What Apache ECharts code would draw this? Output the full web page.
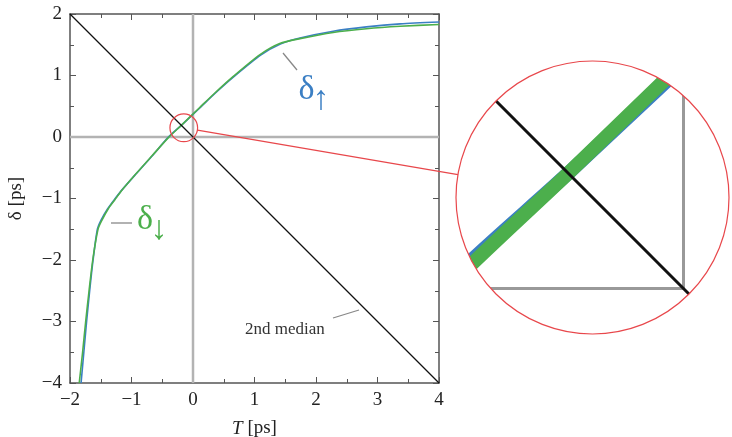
<!DOCTYPE html>
<html>
<head>
<meta charset="utf-8">
<script src="https://cdn.jsdelivr.net/npm/echarts@6/dist/echarts.min.js"></script>
<style>
  html, body { margin: 0; padding: 0; background: #fff; }
  #chart { width: 732px; height: 437px; }
</style>
</head>
<body>
<div id="chart"></div>
<script>
// axis ranges
var tRange = [-2, 4];
var dRange = [-4, 2];
var tickStep = 1;

// delta_down (green) and delta_up (blue)
var greenT = [-1.85, -1.795, -1.745, -1.69, -1.63, -1.545, -1.48, -1.38, -1.27, -1.16, -0.92, -0.67, -0.40, -0.19, 0.11, 0.36, 0.66, 1.09, 1.41, 1.74, 2.28, 2.82, 3.37, 4.0];
var greenD = [-4.0, -3.5, -3.0, -2.5, -2.0, -1.5, -1.35, -1.17, -1.02, -0.87, -0.59, -0.31, -0.01, 0.19, 0.48, 0.72, 0.99, 1.34, 1.52, 1.60, 1.70, 1.76, 1.80, 1.83];
var blueT = [-1.82, -1.775, -1.73, -1.68, -1.625, -1.555, -1.495, -1.39, -1.28, -1.165, -0.92, -0.665, -0.40, -0.19, 0.11, 0.365, 0.665, 1.10, 1.42, 1.74, 2.28, 2.82, 3.37, 4.0];
var blueD = [-4.0, -3.5, -3.0, -2.5, -2.0, -1.5, -1.35, -1.17, -1.02, -0.872, -0.593, -0.308, -0.002, 0.19, 0.472, 0.715, 0.98, 1.33, 1.51, 1.61, 1.72, 1.79, 1.84, 1.87];

// 2nd median
var medianT = [-2, 4];
var medianD = [2, -4];

// the zoomed-in spot
var zoomCenter = [-0.15, 0.15];
var zoomRadius = 0.225;

function pairs(xs, ys) {
  return xs.map(function (x, i) { return [x, ys[i]]; });
}
function fmt(v) {
  return v < 0 ? '\u2212' + (-v) : String(v);
}

var serif = 'Liberation Serif';
var green = '#4caf4c', blue = '#3b7fc4', red = '#e8474b', grey = '#b3b3b3', frame = '#555';

var chart = echarts.init(document.getElementById('chart'));

function mainAxis(pos, labels, name) {
  return {
    gridIndex: 0, type: 'value', position: pos,
    axisLine: { show: true, onZero: false, lineStyle: { color: frame, width: 1.5 } },
    axisTick: { show: true, inside: true, length: 6, lineStyle: { color: frame, width: 1 } },
    minorTick: { show: true, splitNumber: 2, length: 4, lineStyle: { color: frame, width: 1 } },
    axisLabel: { show: labels, fontFamily: serif, fontSize: 19, color: '#222', margin: 8, formatter: fmt },
    splitLine: { show: false },
    name: name || '', nameLocation: 'middle',
    nameTextStyle: { fontFamily: serif, fontSize: 19, color: '#222',
      rich: { i: { fontFamily: serif, fontSize: 19, fontStyle: 'italic', color: '#222' } } },
    interval: tickStep
  };
}

var xMain = mainAxis('bottom', true, '{i|T} [ps]');
xMain.min = tRange[0]; xMain.max = tRange[1]; xMain.nameGap = 36;
var xTop = mainAxis('top', false);
xTop.min = tRange[0]; xTop.max = tRange[1];
var yMain = mainAxis('left', true, '\u03b4 [ps]');
yMain.min = dRange[0]; yMain.max = dRange[1]; yMain.nameGap = 44; yMain.nameRotate = 90;
var yRight = mainAxis('right', false);
yRight.min = dRange[0]; yRight.max = dRange[1];

var xInset = { gridIndex: 1, type: 'value', show: false,
  min: zoomCenter[0] - zoomRadius, max: zoomCenter[0] + zoomRadius };
var yInset = { gridIndex: 1, type: 'value', show: false,
  min: zoomCenter[1] - zoomRadius, max: zoomCenter[1] + zoomRadius };

function line(data, color, width, xi, z, smooth) {
  return {
    type: 'line', data: data, xAxisIndex: xi, yAxisIndex: xi,
    symbol: 'none', silent: true, z: z, clip: true, smooth: smooth || false,
    lineStyle: { color: color, width: width }
  };
}

var series = [
  line([[0, dRange[0]], [0, dRange[1]]], grey, 2.5, 0, 2),
  line([[tRange[0], 0], [tRange[1], 0]], grey, 2.5, 0, 2),
  line(pairs(blueT, blueD), blue, 1.6, 0, 3, 0.25),
  line(pairs(greenT, greenD), green, 1.6, 0, 4, 0.25),
  line(pairs(medianT, medianD), '#111', 1.3, 0, 5),

  line([[0, 0], [0, dRange[1]]], '#999', 3, 2, 2),
  line([[tRange[0], 0], [0, 0]], '#999', 3, 2, 2),
  line(pairs(blueT, blueD), blue, 14, 2, 3, 0.25),
  line(pairs(greenT, greenD), green, 14, 2, 4, 0.25),
  line(pairs(medianT, medianD), '#111', 3, 2, 5)
];

chart.setOption({
  animation: false,
  backgroundColor: '#fff',
  grid: [
    { left: 70, top: 14, width: 369, height: 369, outerBoundsMode: 'none' },
    { left: 456, top: 61, width: 273, height: 273, outerBoundsMode: 'none' }
  ],
  xAxis: [xMain, xTop, xInset],
  yAxis: [yMain, yRight, yInset],
  series: series
});

// zoom circles, mask and annotations
var c0 = chart.convertToPixel({ gridIndex: 0 }, zoomCenter);
var r0 = chart.convertToPixel({ gridIndex: 0 }, [zoomCenter[0] + zoomRadius, zoomCenter[1]])[0] - c0[0];
var c1 = chart.convertToPixel({ gridIndex: 1 }, zoomCenter);
var r1 = chart.convertToPixel({ gridIndex: 1 }, [zoomCenter[0] + zoomRadius, zoomCenter[1]])[0] - c1[0];

var dx = c1[0] - c0[0], dy = c1[1] - c0[1], dl = Math.sqrt(dx * dx + dy * dy);
var ux = dx / dl, uy = dy / dl;

// white square with a round hole, hides the inset outside its circle
var pad = 10;
var sq = [c1[0] - r1 - pad, c1[1] - r1 - pad, c1[0] + r1 + pad, c1[1] + r1 + pad];
var maskPath =
  'M' + sq[0] + ',' + sq[1] + ' L' + sq[2] + ',' + sq[1] + ' L' + sq[2] + ',' + sq[3] + ' L' + sq[0] + ',' + sq[3] + ' Z ' +
  'M' + (c1[0] - r1) + ',' + c1[1] +
  ' A' + r1 + ',' + r1 + ' 0 0,0 ' + (c1[0] + r1) + ',' + c1[1] +
  ' A' + r1 + ',' + r1 + ' 0 0,0 ' + (c1[0] - r1) + ',' + c1[1] + ' Z';
echarts.graphic.registerShape('zoomMask', echarts.graphic.extendPath(maskPath, {}));

var leader = { stroke: '#888', lineWidth: 1.3 };

function label(x, y, text, color, size) {
  return { type: 'text', z: 60, silent: true,
    style: { x: x, y: y, text: text, fill: color, fontFamily: serif, fontSize: size, align: 'center', verticalAlign: 'middle' } };
}

chart.setOption({
  graphic: [
    { type: 'zoomMask', z: 50, silent: true, style: { fill: '#fff' } },
    { type: 'circle', z: 60, silent: true, shape: { cx: c1[0], cy: c1[1], r: r1 }, style: { fill: null, stroke: red, lineWidth: 1.2 } },
    { type: 'circle', z: 60, silent: true, shape: { cx: c0[0], cy: c0[1], r: r0 }, style: { fill: null, stroke: red, lineWidth: 1.2 } },
    { type: 'line', z: 60, silent: true,
      shape: { x1: c0[0] + ux * r0, y1: c0[1] + uy * r0, x2: c1[0] - ux * r1, y2: c1[1] - uy * r1 },
      style: { stroke: red, lineWidth: 1.2 } },

    { type: 'line', z: 60, silent: true, shape: { x1: 283, y1: 53, x2: 297, y2: 70 }, style: leader },
    label(306.5, 90, '\u03b4', blue, 34),
    label(321, 100, '\u2191', blue, 34),

    { type: 'line', z: 60, silent: true, shape: { x1: 111, y1: 223, x2: 132, y2: 223 }, style: leader },
    label(145, 220, '\u03b4', green, 34),
    label(159, 230, '\u2193', green, 34),

    { type: 'line', z: 60, silent: true, shape: { x1: 333, y1: 318, x2: 359, y2: 310 }, style: leader },
    { type: 'text', z: 60, silent: true, style: { x: 245, y: 330, text: '2nd median', fill: '#333', fontFamily: serif, fontSize: 17, align: 'left', verticalAlign: 'middle' } }
  ]
});
</script>
</body>
</html>
